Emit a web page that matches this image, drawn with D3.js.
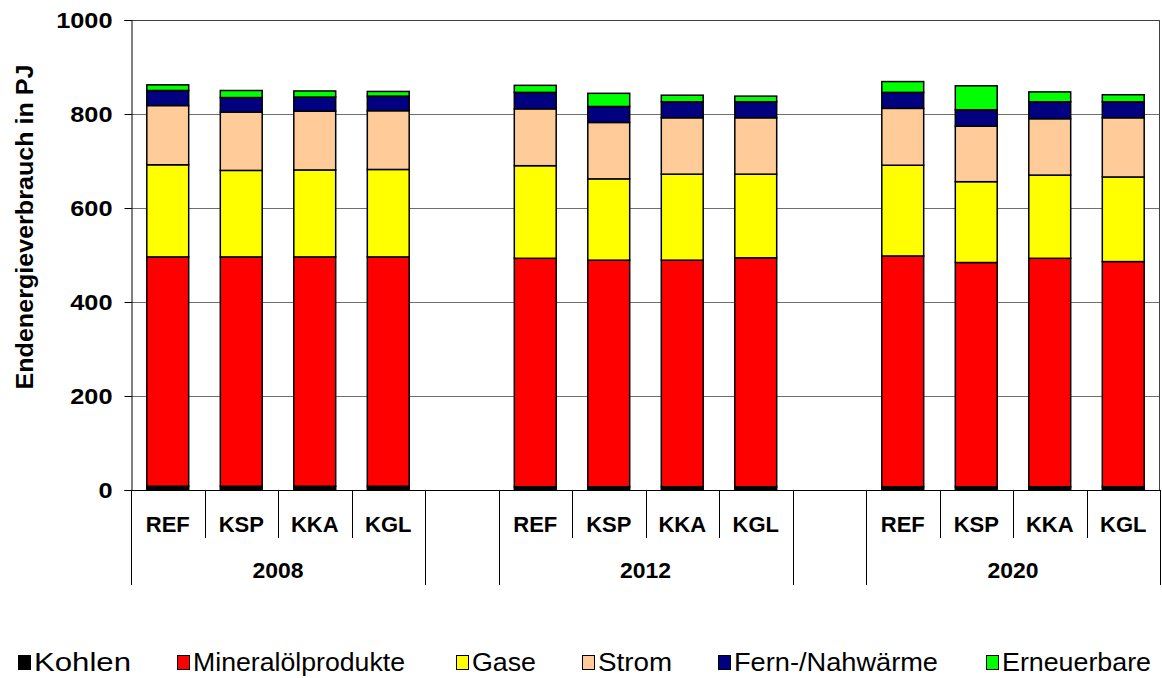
<!DOCTYPE html>
<html>
<head>
<meta charset="utf-8">
<script src="https://cdn.jsdelivr.net/npm/d3@7"></script>
<style>
  html, body { margin: 0; padding: 0; background: #fff; }
  svg { display: block; font-family: "Liberation Sans", Arial, sans-serif; }
</style>
</head>
<body>
<svg id="chart" width="1162" height="678"></svg>
<script>
// ---- data ----
const years = ["2008", "2012", "2020"];
const scenarios = ["REF", "KSP", "KKA", "KGL"];
// 14 slots: 4 scenarios per year, one empty slot between years
const slots = [
  {year: "2008", sc: "REF"}, {year: "2008", sc: "KSP"}, {year: "2008", sc: "KKA"}, {year: "2008", sc: "KGL"},
  {year: "gap1", sc: ""},
  {year: "2012", sc: "REF"}, {year: "2012", sc: "KSP"}, {year: "2012", sc: "KKA"}, {year: "2012", sc: "KGL"},
  {year: "gap2", sc: ""},
  {year: "2020", sc: "REF"}, {year: "2020", sc: "KSP"}, {year: "2020", sc: "KKA"}, {year: "2020", sc: "KGL"}
];
const seriesNames = ["Kohlen", "Mineralölprodukte", "Gase", "Strom", "Fern-/Nahwärme", "Erneuerbare"];
const seriesColors = ["#000000", "#FF0000", "#FFFF00", "#FFCC99", "#000080", "#00FF00"];
// values per series, in slot order (null for empty slots)
const kohlen      = [8, 8, 8, 8, null, 7, 7, 7, 7, null, 7, 7, 7, 7];
const mineraloel  = [488, 488, 488, 488, null, 486, 482, 482, 487, null, 491, 477, 486, 479];
const gase        = [196, 184, 185, 186, null, 197, 173, 183, 178, null, 193, 172, 177, 180];
const strom       = [126, 124, 125, 125, null, 121, 120, 120, 120, null, 121, 118, 120, 126];
const fernwaerme  = [32, 31, 30, 31, null, 35, 34, 34, 34, null, 34, 35, 36, 34];
const erneuerbare = [12, 15, 13, 10, null, 15, 28, 14, 12, null, 23, 51, 21, 15];
const yTicks = [0, 200, 400, 600, 800, 1000];
const yTitle = "Endenergieverbrauch in PJ";

const seriesValues = [kohlen, mineraloel, gase, strom, fernwaerme, erneuerbare];

// ---- layout ----
const svg = d3.select("#chart");
const pL = 131, pR = 1160, pT = 20, pB = 490;

const x = d3.scaleBand().domain(d3.range(slots.length)).range([pL, pR]).paddingInner(0.43).paddingOuter(0.215);
const xSlot = d3.scaleBand().domain(d3.range(slots.length)).range([pL, pR]);
const y = d3.scaleLinear().domain([0, 1000]).range([pB, pT]);

// gridlines
svg.append("g").selectAll("line").data(yTicks.filter(d => d > 0)).join("line")
  .attr("x1", pL).attr("x2", pR)
  .attr("y1", d => y(d) + 0.5).attr("y2", d => y(d) + 0.5)
  .attr("stroke", "#6f6f6f").attr("stroke-width", 1);

// plot border (top and right)
svg.append("path")
  .attr("d", `M${pL},${pT + 0.5}H${pR - 0.5}V${pB}`)
  .attr("fill", "none").attr("stroke", "#404040").attr("stroke-width", 1);

// stacked data
const table = slots.map((s, i) => {
  const o = {i};
  seriesNames.forEach((n, k) => o[n] = seriesValues[k][i]);
  return o;
}).filter(d => d[seriesNames[0]] !== null);
const stack = d3.stack().keys(seriesNames)(table);

const gBars = svg.append("g");
stack.forEach((layer, k) => {
  gBars.append("g").selectAll("rect").data(layer).join("rect")
    .attr("x", d => x(d.data.i))
    .attr("width", x.bandwidth())
    .attr("y", d => y(d[1]))
    .attr("height", d => y(d[0]) - y(d[1]))
    .attr("fill", seriesColors[k])
    .attr("stroke", "#000").attr("stroke-width", 1.5);
});

// y axis
const yAxis = d3.axisLeft(y).tickValues(yTicks).tickSize(7).tickPadding(12).tickFormat(d3.format("d"));
const gy = svg.append("g").attr("transform", `translate(${pL + 0.5},0)`).call(yAxis);
gy.select(".domain").attr("stroke", "#000").attr("stroke-width", 1);
gy.selectAll(".tick line").attr("stroke", "#000");
gy.selectAll(".tick text").attr("font-size", 22).attr("font-weight", "bold")
  .attr("font-family", "'Liberation Sans', Arial, sans-serif").attr("fill", "#000")
  .attr("dy", "0.36em")
  .each(function() {
    const w = this.getComputedTextLength();
    d3.select(this).attr("textLength", w * 1.15).attr("lengthAdjust", "spacingAndGlyphs");
  });

// y title
svg.append("text")
  .attr("transform", `translate(33,${227}) rotate(-90)`)
  .attr("text-anchor", "middle")
  .attr("font-size", 24).attr("font-weight", "bold")
  .attr("textLength", 325).attr("lengthAdjust", "spacingAndGlyphs")
  .text(yTitle);

// x axis baseline
svg.append("line").attr("x1", pL).attr("x2", pR)
  .attr("y1", pB + 0.5).attr("y2", pB + 0.5)
  .attr("stroke", "#000").attr("stroke-width", 1);

// category separators
const gx = svg.append("g");
d3.range(slots.length + 1).forEach(b => {
  const xb = b < slots.length ? xSlot(b) : pR;
  const prev = slots[b - 1], next = slots[b];
  const isGroup = !prev || !next || prev.year !== next.year;
  gx.append("line")
    .attr("x1", Math.round(xb) + 0.5).attr("x2", Math.round(xb) + 0.5)
    .attr("y1", pB).attr("y2", isGroup ? 585 : 538)
    .attr("stroke", "#000").attr("stroke-width", 1);
});

// scenario labels
const slotObjs = slots.map((s, i) => ({...s, i}));
gx.selectAll("text.sc").data(slotObjs.filter(s => s.sc)).join("text")
  .attr("class", "sc")
  .attr("x", d => xSlot(d.i) + xSlot.bandwidth() / 2)
  .attr("y", 532)
  .attr("text-anchor", "middle")
  .attr("font-size", 22).attr("font-weight", "bold")
  .text(d => d.sc);

// year labels
const yearGroups = d3.groups(slotObjs, d => d.year).filter(([yr]) => years.includes(yr));
gx.selectAll("text.yr").data(yearGroups).join("text")
  .attr("class", "yr")
  .attr("x", ([, arr]) => (xSlot(arr[0].i) + xSlot(arr[arr.length - 1].i) + xSlot.bandwidth()) / 2)
  .attr("y", 578)
  .attr("text-anchor", "middle")
  .attr("font-size", 22).attr("font-weight", "bold")
  .text(([yr]) => yr)
  .attr("textLength", 51).attr("lengthAdjust", "spacingAndGlyphs");

// legend
const legendX = [18, 177, 456, 582, 718, 986];
const legendW = [97, 212, 64, 74, 204, 149];
const gl = svg.append("g");
seriesNames.forEach((n, k) => {
  gl.append("rect")
    .attr("x", legendX[k] + 0.5).attr("y", 655.5)
    .attr("width", 12).attr("height", 14)
    .attr("fill", seriesColors[k]).attr("stroke", "#000").attr("stroke-width", 1);
  gl.append("text")
    .attr("x", legendX[k] + 16).attr("y", 671)
    .attr("font-size", 25)
    .attr("textLength", legendW[k]).attr("lengthAdjust", "spacingAndGlyphs")
    .text(n);
});
</script>
</body>
</html>
